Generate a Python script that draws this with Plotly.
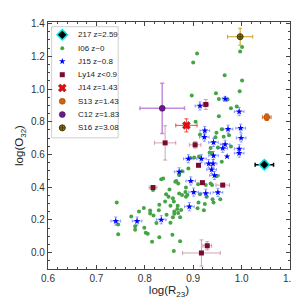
import plotly.graph_objects as go

# ---------------- data ----------------
# I06 z~0 (green dots)
i06_x = [0.742, 0.745, 0.745, 0.772, 0.780, 0.780, 0.788, 0.798, 0.799, 0.802, 0.806, 0.811, 0.811, 0.815,
         0.818, 0.817, 0.824, 0.829, 0.830, 0.830, 0.834, 0.838, 0.842, 0.845, 0.844, 0.849, 0.851, 0.853,
         0.853, 0.857, 0.858, 0.858, 0.860, 0.860, 0.861, 0.861, 0.863, 0.865, 0.867, 0.868, 0.869, 0.869,
         0.871, 0.871, 0.873, 0.873, 0.875, 0.877, 0.877, 0.884, 0.885, 0.885, 0.888, 0.890, 0.894, 0.897,
         0.900, 0.902, 0.905, 0.908, 0.909, 0.910, 0.911, 0.912, 0.914, 0.914, 0.922, 0.924, 0.926, 0.928,
         0.934, 0.936, 0.936, 0.938, 0.939, 0.940, 0.942, 0.946, 0.947, 0.948, 0.949, 0.951, 0.953, 0.953,
         0.956, 0.959, 0.959, 0.963, 0.965, 0.971, 0.974, 0.978, 0.978, 0.990, 0.996, 1.001, 1.001, 0.997]
i06_y = [0.307, 0.172, 0.112, 0.221, 0.162, 0.140, 0.252, 0.273, 0.152, 0.122, 0.116, 0.257, 0.240, 0.066,
         0.227, 0.383, 0.181, 0.259, 0.293, 0.094, 0.448, 0.454, 0.313, 0.231, 0.357, 0.341, 0.386, 0.183,
         0.287, 0.110, 0.333, 0.217, 0.313, 0.010, 0.251, 0.237, 0.434, 0.438, 0.267, 0.287, 0.243, 0.422,
         0.474, 0.362, 0.217, 0.070, 0.261, 0.498, 0.353, 0.371, 0.398, 0.341, 0.353, 0.514, 0.579, 0.960,
         1.163, 0.582, 0.800, 1.218, 0.271, 0.418, 0.307, 0.588, 0.722, 0.357, 0.259, 0.297, 0.413, 0.341,
         0.612, 0.422, 0.639, 0.609, 0.413, 0.327, 0.307, 0.705, 0.974, 0.733, 0.468, 0.643, 0.939, 0.834,
         0.327, 0.755, 0.555, 0.709, 1.084, 0.936, 0.717, 0.882, 0.649, 0.894, 0.987, 1.052, 1.257, 1.230]

# J15 z~0.8 (blue stars)
j15_x = [0.740, 0.784, 0.834, 0.892, 0.871, 0.895, 0.901, 0.926, 0.951, 0.890, 0.917, 0.942, 0.970, 0.995,
         0.932, 0.941, 0.938, 0.944, 0.914, 0.966, 0.995, 0.924, 0.923, 0.972, 0.998, 0.999, 0.942, 0.966,
         0.995, 0.961]
j15_y = [0.193, 0.193, 0.201, 0.281, 0.494, 0.438, 0.370, 0.363, 0.368, 0.574, 0.574, 0.593, 0.588, 0.608,
         0.544, 0.544, 0.508, 0.472, 0.897, 0.940, 0.862, 0.746, 0.706, 0.755, 0.761, 0.701, 0.674, 0.662,
         0.635, 0.638]
j15_xerr = [0.010, 0.010, 0.010, 0.010, 0.010, 0.010, 0.010, 0.010, 0.010, 0.010, 0.010, 0.010, 0.000, 0.010,
            0.008, 0.008, 0.010, 0.010, 0.010, 0.006, 0.010, 0.010, 0.010, 0.010, 0.010, 0.010, 0.010, 0.010,
            0.010, 0.010]
j15_yerr = [0.025, 0.025, 0.025, 0.025, 0.025, 0.025, 0.025, 0.025, 0.025, 0.025, 0.025, 0.025, 0.000, 0.025,
            0.025, 0.025, 0.025, 0.025, 0.025, 0.015, 0.025, 0.025, 0.025, 0.025, 0.025, 0.025, 0.025, 0.025,
            0.025, 0.025]

# Ly14 z<0.9 (maroon squares)
ly14_x = [0.926, 0.904, 0.842, 0.817, 0.911, 0.919, 0.961, 0.929, 0.917]
ly14_y = [0.906, 0.659, 0.671, 0.398, 0.534, 0.428, 0.413, 0.042, -0.002]
ly14_xerr = [0.006, 0.012, 0.022, 0.008, 0.003, 0.003, 0.014, 0.009, 0.039]
ly14_yerr = [0.030, 0.020, 0.105, 0.010, 0.005, 0.005, 0.010, 0.025, 0.080]

# Single objects
obj217_x, obj217_y, obj217_xerr, obj217_yerr = [1.047], [0.538], [0.019], [0.02]
j14_x, j14_y, j14_xerr, j14_yerr = [0.886], [0.778], [0.022], [0.040]
s13_x, s13_y, s13_xerr, s13_yerr = [1.052], [0.828], [0.009], [0.020]
c12_x, c12_y, c12_xerr, c12_yerr = [0.836], [0.882], [0.046], [0.153]
s16_x, s16_y, s16_xerr, s16_yerr = [0.997], [1.320], [0.026], [0.052]

legend_labels = ["217 z=2.59", "I06 z~0", "J15 z~0.8", "Ly14 z<0.9",
                 "J14 z=1.43", "S13 z=1.43", "C12 z=1.83", "S16 z=3.08"]

x_range = [0.6, 1.1]
y_range = [-0.1, 1.41]
x_ticks = [0.6, 0.7, 0.8, 0.9, 1.0, 1.1]
y_ticks = [0.0, 0.2, 0.4, 0.6, 0.8, 1.0, 1.2, 1.4]

# ---------------- styles ----------------
styles = {
    "217 z=2.59": dict(symbol="diamond", color="black", size=8, line=dict(color="#00e5e5", width=1.5)),
    "I06 z~0": dict(symbol="circle", color="#44a544", size=4, line=dict(width=0)),
    "J15 z~0.8": dict(symbol="star", color="#0000ff", size=5, line=dict(width=0)),
    "Ly14 z<0.9": dict(symbol="square", color="#7a0a2e", size=5, line=dict(width=0)),
    "J14 z=1.43": dict(symbol="x", color="#e01010", size=7, line=dict(color="#800000", width=0.5)),
    "S13 z=1.43": dict(symbol="circle", color="#d2620e", size=6, line=dict(color="#8a3a00", width=0.5)),
    "C12 z=1.83": dict(symbol="circle", color="#6a1b8a", size=6, line=dict(color="#3a0a50", width=0.5)),
    "S16 z=3.08": dict(symbol="circle-cross", color="#8c7a1c", size=6, line=dict(color="#4a3a00", width=1)),
}

fig = go.Figure()

def err(arr, color, w=2, t=1):
    return dict(type="data", array=arr, color=color, thickness=t, width=w, visible=True)

fig.add_trace(go.Scatter(x=i06_x, y=i06_y, mode="markers", marker=styles["I06 z~0"], showlegend=False))
fig.add_trace(go.Scatter(x=j15_x, y=j15_y, mode="markers", marker=styles["J15 z~0.8"],
                         error_x=err(j15_xerr, "rgba(60,90,255,0.55)", 1.5),
                         error_y=err(j15_yerr, "rgba(60,90,255,0.55)", 1.5), showlegend=False))
fig.add_trace(go.Scatter(x=ly14_x, y=ly14_y, mode="markers", marker=styles["Ly14 z<0.9"],
                         error_x=err(ly14_xerr, "rgba(160,50,90,0.45)"),
                         error_y=err(ly14_yerr, "rgba(160,50,90,0.45)"), showlegend=False))
fig.add_trace(go.Scatter(x=j14_x, y=j14_y, mode="markers", marker=styles["J14 z=1.43"],
                         error_x=err(j14_xerr, "rgba(240,40,40,0.85)"),
                         error_y=err(j14_yerr, "rgba(240,40,40,0.85)"), showlegend=False))
fig.add_trace(go.Scatter(x=s13_x, y=s13_y, mode="markers", marker=styles["S13 z=1.43"],
                         error_x=err(s13_xerr, "#e07020"), error_y=err(s13_yerr, "#e07020"), showlegend=False))
fig.add_trace(go.Scatter(x=c12_x, y=c12_y, mode="markers", marker=styles["C12 z=1.83"],
                         error_x=err(c12_xerr, "rgba(185,120,215,0.85)", 2, 1.5),
                         error_y=err(c12_yerr, "rgba(185,120,215,0.85)", 2, 1.5), showlegend=False))
fig.add_trace(go.Scatter(x=s16_x, y=s16_y, mode="markers", marker=styles["S16 z=3.08"],
                         error_x=err(s16_xerr, "#c9a227"), error_y=err(s16_yerr, "#c9a227"), showlegend=False))
fig.add_trace(go.Scatter(x=obj217_x, y=obj217_y, mode="markers", marker=styles["217 z=2.59"],
                         error_x=err(obj217_xerr, "black", 2, 1.5), error_y=err(obj217_yerr, "black", 2, 1.5),
                         showlegend=False))

# ---------------- hand-made compact legend ----------------
n = len(legend_labels)
row_top, row_step = 0.948, 0.0538
leg_y = [row_top - i * row_step for i in range(n)]
for lab, yy in zip(legend_labels, leg_y):
    fig.add_trace(go.Scatter(x=[0.059], y=[yy], xaxis="x2", yaxis="y2", mode="markers",
                             marker=styles[lab], showlegend=False, hoverinfo="skip"))
    fig.add_annotation(x=0.117, y=yy, xref="paper", yref="paper", text=lab, showarrow=False,
                       xanchor="left", yanchor="middle", font=dict(size=8, color="#222"))

fig.add_shape(type="rect", xref="paper", yref="paper", x0=0.015, x1=0.29, y0=0.531, y1=0.981,
              line=dict(color="#cfcfcf", width=1), fillcolor="white", layer="below")

axis_common = dict(showline=True, linecolor="#444", linewidth=1.2, mirror="ticks", ticks="inside",
                   ticklen=4, tickwidth=1, tickcolor="#444", showgrid=False, zeroline=False,
                   tickfont=dict(size=10, color="#333"))

fig.update_layout(
    width=299, height=299,
    margin=dict(l=40, r=14, t=10, b=38),
    paper_bgcolor="white", plot_bgcolor="white",
    font=dict(family="Liberation Sans, Arial, sans-serif"),
    xaxis=dict(range=x_range, tickvals=x_ticks, ticktext=[f"{v:.1f}" for v in x_ticks],
               minor=dict(dtick=0.02, ticklen=2, ticks="inside", tickcolor="#444"),
               title=dict(text="log(R<sub>23</sub>)", font=dict(size=11.5, color="#222"), standoff=0),
               **axis_common),
    yaxis=dict(range=y_range, tickvals=y_ticks, ticktext=[f"{v:.1f}" for v in y_ticks],
               minor=dict(dtick=0.05, ticklen=2, ticks="inside", tickcolor="#444"),
               title=dict(text="log(O<sub>32</sub>)", font=dict(size=11.5, color="#222"), standoff=4),
               **axis_common),
    xaxis2=dict(range=[0, 1], overlaying="x", visible=False, anchor="y2"),
    yaxis2=dict(range=[0, 1], overlaying="y", visible=False, anchor="x2"),
)

fig.write_html("out.html")
